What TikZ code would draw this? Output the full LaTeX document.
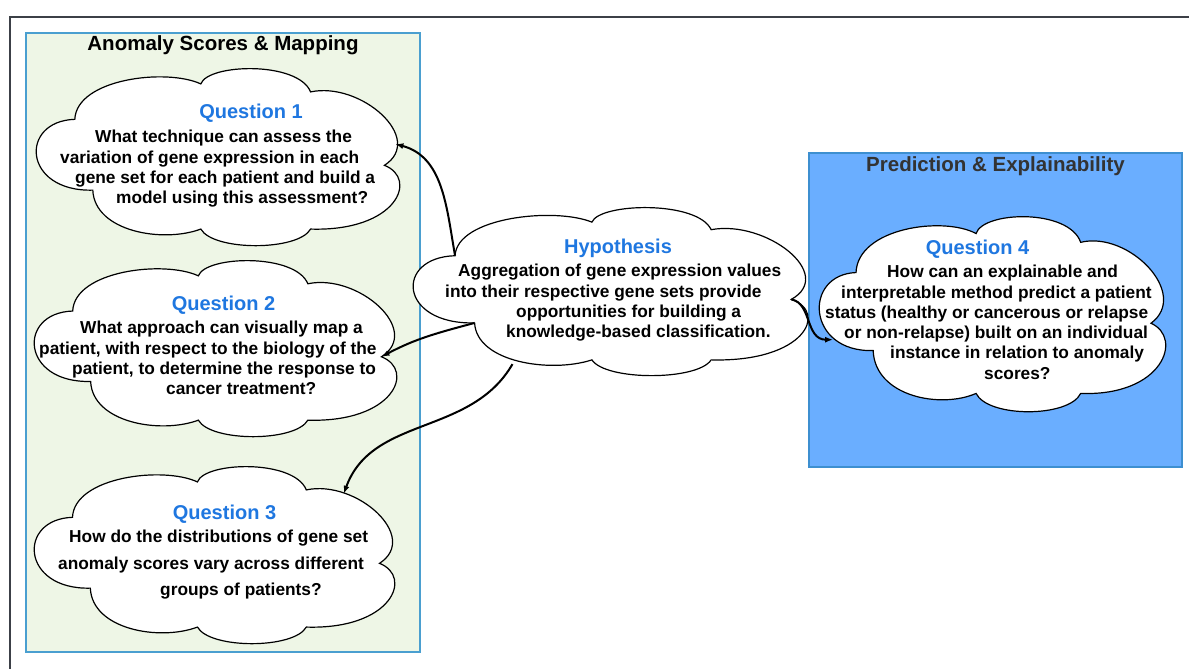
\documentclass[tikz,border=0pt]{standalone}
\usepackage{fontspec}
\setmainfont{Liberation Sans}
\usetikzlibrary{shapes.geometric,arrows.meta}

\definecolor{framegray}{HTML}{3C4047}
\definecolor{leftfill}{HTML}{EEF6E6}
\definecolor{leftline}{HTML}{4A9FD0}
\definecolor{rightfill}{HTML}{6AAEFF}
\definecolor{rightline}{HTML}{3D8FD0}
\definecolor{qblue}{HTML}{1F77E0}
\definecolor{titlegray}{HTML}{333333}

\tikzset{
  cloudbox/.style={ellipse, inner sep=0pt},
  cloudline/.style={draw=black, fill=white, line width=1.2pt},
  qtitle/.style={text=qblue, font=\fontsize{20}{24}\selectfont\bfseries, inner sep=0pt},
  qbody/.style={anchor=north west, align=left, inner sep=0pt, font=\fontsize{17.3}{20.3}\selectfont\bfseries},
  paneltitle/.style={font=\fontsize{20.5}{24}\selectfont\bfseries, inner sep=0pt},
  link/.style={line width=2pt, -{Latex[length=8pt,width=6pt]}}
}

% cloud: name, centre, half width, half height
\newcommand{\cloudat}[4]{%
  \node[cloudbox, minimum width={2*#3pt}, minimum height={2*#4pt}] (#1) at #2 {};
  \begin{scope}[shift={(#1.center)}, x=#3pt, y=#4pt]
    \draw[cloudline] (-0.79,0.42) coordinate (#1-a)
      .. controls (-0.78,0.88) and (-0.28,1.0) .. (-0.09,0.82) coordinate (#1-b)
      .. controls (-0.05,1.05) and (0.45,1.08) .. (0.52,0.73) coordinate (#1-c)
      .. controls (0.80,0.85) and (1.16,0.2) .. (0.93,-0.10) coordinate (#1-d)
      .. controls (1.12,-0.25) and (1.0,-0.85) .. (0.52,-0.82) coordinate (#1-e)
      .. controls (0.45,-1.07) and (-0.02,-1.07) .. (-0.09,-0.82) coordinate (#1-f)
      .. controls (-0.3,-0.98) and (-0.68,-0.85) .. (-0.69,-0.38) coordinate (#1-g)
      .. controls (-1.08,-0.40) and (-1.10,0.40) .. (-0.79,0.42) -- cycle;
  \end{scope}}

\begin{document}
\begin{tikzpicture}[x=1pt,y=1pt]
    \useasboundingbox (0,0) rectangle (1189,-669);

    % frame and panels
    \draw [framegray, line width=2pt] (10,-669) -- (10,-17) -- (1189,-17);
    \draw [leftline, fill=leftfill, line width=1.5pt] (26,-33) rectangle (420,-652);
    \draw [rightline, fill=rightfill, line width=1.5pt] (809,-153) rectangle (1182,-467);

    \node[paneltitle] (lefttitle) at (223,-45) {Anomaly Scores \& Mapping};
    \node[paneltitle, text=titlegray] (righttitle) at (995.5,-166) {Prediction \& Explainability};

    % clouds
    \cloudat{q1}{(217,-156.5)}{180}{88.5}
    \cloudat{q2}{(214.5,-348)}{179.5}{88}
    \cloudat{q3}{(213.5,-554.5)}{178.5}{88.5}
    \cloudat{hyp}{(609.5,-291)}{195.5}{84}
    \cloudat{q4}{(991.5,-313.5)}{171.5}{97.5}

    % texts
    \node[qtitle] (q1title) at (251,-113) {Question 1};
    \node[qbody] (q1text) at (60,-130) {\hspace*{35pt}What technique can assess the\\
        variation of gene expression in each\\
        \hspace*{15pt}gene set for each patient and build a\\
        \hspace*{56pt}model using this assessment?};

    \node[qtitle] (q2title) at (223.5,-305.5) {Question 2};
    \node[qbody] (q2text) at (39,-321) {\hspace*{41pt}What approach can visually map a\\
        patient, with respect to the biology of the\\
        \hspace*{33pt}patient, to determine the response to\\
        \hspace*{127pt}cancer treatment?};

    \node[qtitle] (q3title) at (224.5,-514) {Question 3};
    \node[qbody, font=\fontsize{17.3}{26.5}\selectfont\bfseries] (q3text) at (58,-530) {\hspace*{11pt}How do the distributions of gene set\\
        anomaly scores vary across different\\
        \hspace*{102pt}groups of patients?};

    \node[qtitle] (hyptitle) at (618,-248) {Hypothesis};
    \node[qbody] (hyptext) at (445,-264) {\hspace*{13pt}Aggregation of gene expression values\\
        into their respective gene sets provide\\
        \hspace*{71pt}opportunities for building a\\
        \hspace*{61pt}knowledge-based classification.};

    \node[qtitle] (q4title) at (977.5,-249) {Question 4};
    \node[qbody] (q4text) at (825,-265) {\hspace*{62pt}How can an explainable and\\
        \hspace*{16pt}interpretable method predict a patient\\
        status (healthy or cancerous or relapse\\
        \hspace*{19pt}or non-relapse) built on an individual\\
        \hspace*{65pt}instance in relation to anomaly\\
        \hspace*{159pt}scores?};

    % links
    \draw [link] (hyp-a) to[out=100, in=-15] (q1.4);
    \draw [link] (hyp-g) to[out=195, in=28] (q2-d);
    \draw [link] (hyp.217) to[out=240, in=70] (q3.25);
    \draw [link, shorten >=-7pt] (hyp-d) to[out=-10, in=180] (q4.189);
\end{tikzpicture}
\end{document}
